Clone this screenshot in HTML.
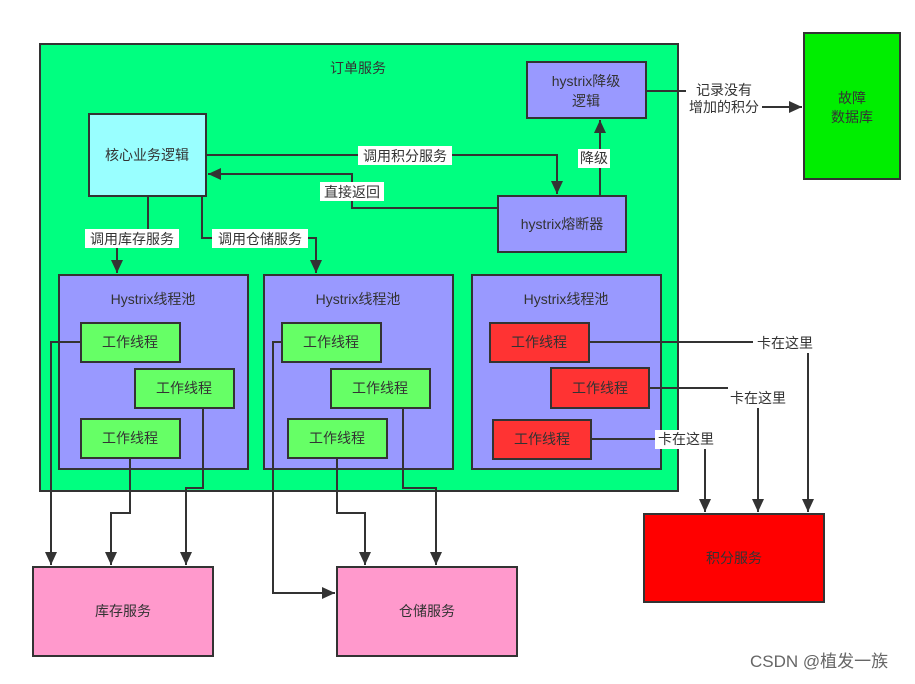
<!DOCTYPE html>
<html><head><meta charset="utf-8"><style>
html,body{margin:0;padding:0;background:#fff;}
svg text{font-family:"Liberation Sans","Noto Sans CJK SC",sans-serif;font-size:14px;fill:#333;}
</style></head><body>
<svg width="915" height="679" viewBox="0 0 915 679" xmlns="http://www.w3.org/2000/svg">
<defs><marker id="a" markerWidth="10" markerHeight="10" refX="9" refY="5" orient="auto" markerUnits="userSpaceOnUse"><path d="M0,0 L10,5 L0,10 z" fill="#333"/></marker>
<marker id="b" markerWidth="14" markerHeight="14" refX="13" refY="7" orient="auto" markerUnits="userSpaceOnUse"><path d="M0,1 L13,7 L0,13 z" fill="#333"/></marker></defs>
<g stroke="#333" stroke-width="2">
<rect x="40" y="44" width="638" height="447" fill="#00ff80"/>
<rect x="804" y="33" width="96" height="146" fill="#00ee00"/>
<rect x="89" y="114" width="117" height="82" fill="#99ffff"/>
<rect x="527" y="62" width="119" height="56" fill="#9999ff"/>
<rect x="498" y="196" width="128" height="56" fill="#9999ff"/>
<rect x="59" y="275" width="189" height="194" fill="#9999ff"/>
<rect x="264" y="275" width="189" height="194" fill="#9999ff"/>
<rect x="472" y="275" width="189" height="194" fill="#9999ff"/>
<rect x="81" y="323" width="99" height="39" fill="#66ff66"/>
<rect x="135" y="369" width="99" height="39" fill="#66ff66"/>
<rect x="81" y="419" width="99" height="39" fill="#66ff66"/>
<rect x="282" y="323" width="99" height="39" fill="#66ff66"/>
<rect x="331" y="369" width="99" height="39" fill="#66ff66"/>
<rect x="288" y="419" width="99" height="39" fill="#66ff66"/>
<rect x="490" y="323" width="99" height="39" fill="#ff3333"/>
<rect x="551" y="368" width="98" height="40" fill="#ff3333"/>
<rect x="493" y="420" width="98" height="39" fill="#ff3333"/>
<rect x="644" y="514" width="180" height="88" fill="#ff0000"/>
<rect x="33" y="567" width="180" height="89" fill="#ff99cc"/>
<rect x="337" y="567" width="180" height="89" fill="#ff99cc"/>
</g>
<g stroke="#333" stroke-width="2" fill="none">
<path d="M206,155 H557 V194" marker-end="url(#b)"/>
<path d="M498,208 H352 V174 H208" marker-end="url(#b)"/>
<path d="M600,196 V120" marker-end="url(#b)"/>
<path d="M646,91 H686"/>
<path d="M762,107 H802" marker-end="url(#b)"/>
<path d="M148,196 V238 H117 V273" marker-end="url(#b)"/>
<path d="M202,196 V238 H316 V273" marker-end="url(#b)"/>
<path d="M81,342 H51 V565" marker-end="url(#b)"/>
<path d="M130,458 V513 H111 V565" marker-end="url(#b)"/>
<path d="M203,408 V488 H186 V565" marker-end="url(#b)"/>
<path d="M282,342 H273 V593 H335" marker-end="url(#b)"/>
<path d="M337,458 V513 H365 V565" marker-end="url(#b)"/>
<path d="M403,408 V488 H436 V565" marker-end="url(#b)"/>
<path d="M589,342 H753"/>
<path d="M808,353 V512" marker-end="url(#b)"/>
<path d="M649,388 H728"/>
<path d="M758,408 V512" marker-end="url(#b)"/>
<path d="M591,439 H655"/>
<path d="M705,449 V512" marker-end="url(#b)"/>
</g>
<g fill="#fff">
<rect x="358" y="146" width="94" height="19"/>
<rect x="320" y="182" width="64" height="19"/>
<rect x="578" y="149" width="32" height="19"/>
<rect x="85" y="229" width="94" height="19"/>
<rect x="212" y="229" width="96" height="19"/>
<rect x="655" y="430" width="62" height="19"/>
</g>
<g text-anchor="middle">
<text x="358" y="73">订单服务</text>
<text x="586" y="86">hystrix降级</text><text x="586" y="106">逻辑</text>
<text x="147" y="160">核心业务逻辑</text>
<text x="562" y="229">hystrix熔断器</text>
<text x="405" y="161">调用积分服务</text>
<text x="352" y="197">直接返回</text>
<text x="594" y="163">降级</text>
<text x="132" y="244">调用库存服务</text>
<text x="260" y="244">调用仓储服务</text>
<text x="724" y="95">记录没有</text><text x="724" y="112">增加的积分</text>
<text x="852" y="103">故障</text><text x="852" y="122">数据库</text>
<text x="153" y="304">Hystrix线程池</text>
<text x="358" y="304">Hystrix线程池</text>
<text x="566" y="304">Hystrix线程池</text>
<text x="130" y="347">工作线程</text><text x="184" y="393">工作线程</text><text x="130" y="443">工作线程</text>
<text x="331" y="347">工作线程</text><text x="380" y="393">工作线程</text><text x="337" y="443">工作线程</text>
<text x="539" y="347">工作线程</text><text x="600" y="393">工作线程</text><text x="542" y="444">工作线程</text>
<text x="785" y="348">卡在这里</text>
<text x="758" y="403">卡在这里</text>
<text x="686" y="444">卡在这里</text>
<text x="734" y="563">积分服务</text>
<text x="123" y="616">库存服务</text>
<text x="427" y="616">仓储服务</text>
</g>
<text x="750" y="667" style="font-size:17px;fill:#666">CSDN @植发一族</text>
</svg>
</body></html>
